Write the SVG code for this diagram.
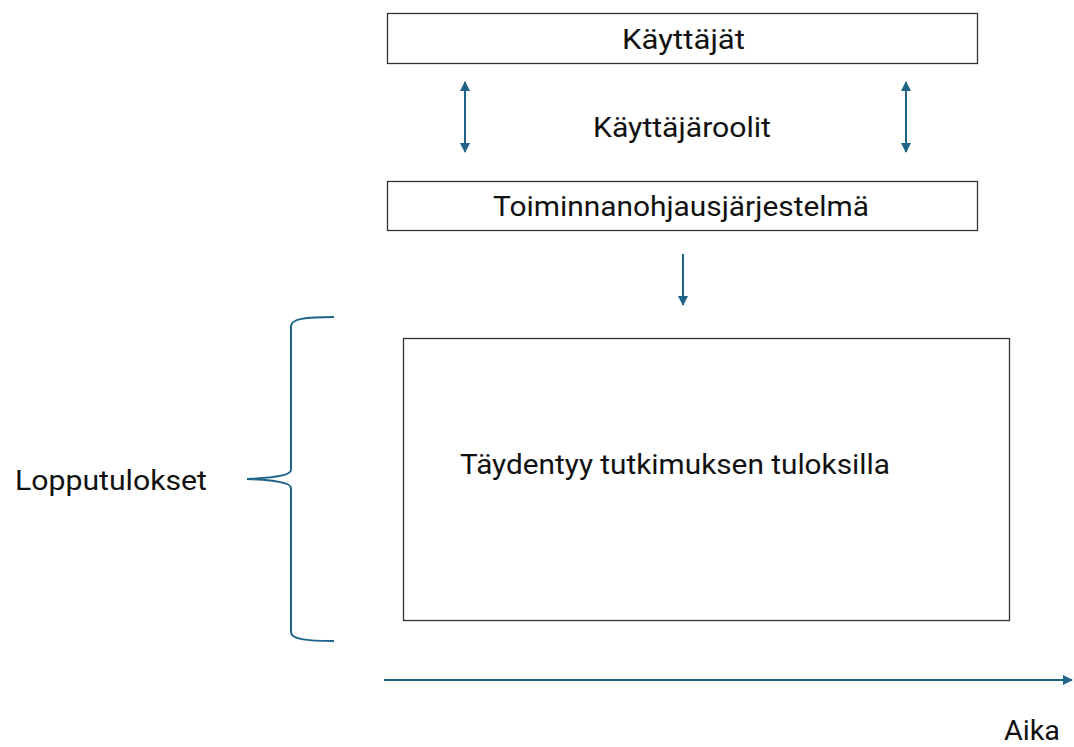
<svg xmlns="http://www.w3.org/2000/svg" width="1074" height="747" viewBox="0 0 1074 747">
<defs>
<style>
.box{fill:#fff;stroke:#333;stroke-width:1.3}
.t{font-family:Roboto,"Liberation Sans",sans-serif;font-size:27px;fill:#111}
.c{stroke:#1f6388;stroke-width:2;fill:none}
</style>
<marker id="ah" viewBox="0 0 10 10" refX="9" refY="5" markerWidth="5" markerHeight="5" orient="auto-start-reverse" markerUnits="strokeWidth">
<path d="M0,0 L10,5 L0,10 z" fill="#1f6388"/>
</marker>
</defs>
<rect width="1074" height="747" fill="#fff"/>
<g id="kayttajat">
<rect class="box" x="387.5" y="13.5" width="590" height="50"/>
<text class="t" x="622" y="49" textLength="123" lengthAdjust="spacingAndGlyphs">Käyttäjät</text>
</g>
<g id="roolit">
<text class="t" x="593" y="137" textLength="178" lengthAdjust="spacingAndGlyphs">Käyttäjäroolit</text>
</g>
<g id="toiminnanohjaus">
<rect class="box" x="387.5" y="181.5" width="590" height="49"/>
<text class="t" x="493" y="216" textLength="376" lengthAdjust="spacingAndGlyphs">Toiminnanohjausjärjestelmä</text>
</g>
<g id="tulokset">
<rect class="box" x="403.5" y="338.5" width="606" height="282"/>
<text class="t" x="460" y="474" textLength="430" lengthAdjust="spacingAndGlyphs">Täydentyy tutkimuksen tuloksilla</text>
</g>
<g id="lopputulokset">
<text class="t" x="15" y="490" textLength="192" lengthAdjust="spacingAndGlyphs">Lopputulokset</text>
</g>
<g id="aika">
<text class="t" x="1004" y="740" textLength="56" lengthAdjust="spacingAndGlyphs">Aika</text>
</g>
<g id="connectors">
<line class="c" x1="465" y1="82" x2="465" y2="152" marker-start="url(#ah)" marker-end="url(#ah)"/>
<line class="c" x1="906" y1="82" x2="906" y2="152" marker-start="url(#ah)" marker-end="url(#ah)"/>
<line class="c" x1="683" y1="254" x2="683" y2="305" marker-end="url(#ah)"/>
<line class="c" x1="384" y1="680" x2="1072" y2="680" marker-end="url(#ah)"/>
<path class="c" d="M334,317 C305,317 291,319 291,326 L291,470 C291,476 270,478 247,479 C270,480 291,482 291,488 L291,632 C291,639 305,641 334,641"/>
</g>
</svg>
